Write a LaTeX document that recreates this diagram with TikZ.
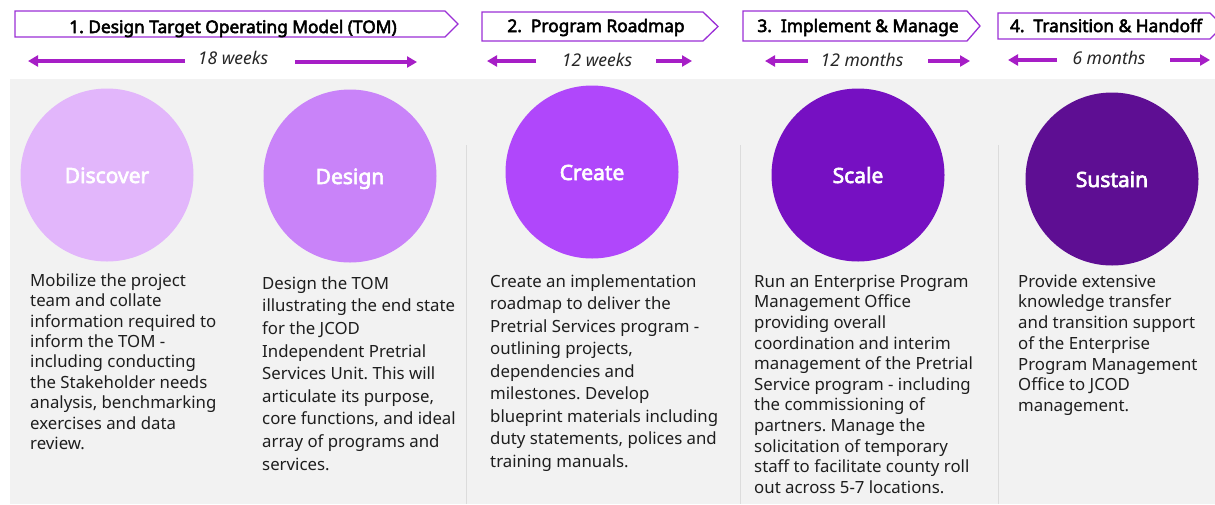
\documentclass[tikz,border=0pt]{standalone}
\usepackage{fontspec}
\setmainfont{Noto Sans}
\newfontfamily\boldsans{Noto Sans}[FakeBold=3]
\usetikzlibrary{arrows.meta}
\definecolor{bggray}{HTML}{F2F2F2}
\definecolor{hdrpurple}{HTML}{9B2FD6}
\definecolor{arrpurple}{HTML}{A61EC6}
\definecolor{cDiscover}{HTML}{E2B6FB}
\definecolor{cDesign}{HTML}{C983F9}
\definecolor{cCreate}{HTML}{B047FB}
\definecolor{cScale}{HTML}{7610C2}
\definecolor{cSustain}{HTML}{5E0E93}
\definecolor{bodytext}{HTML}{1E1E1E}
\definecolor{divider}{HTML}{DCDCDC}
\newcommand{\firstline}{\rule{0pt}{13pt}}
\frenchspacing
\begin{document}
\begin{tikzpicture}[x=1pt,y=-1pt,
  hdr/.style={draw=hdrpurple, line width=1.3pt, fill=white, line join=miter},
  hdrtext/.style={font=\fontsize{17.3}{19}\boldsans, text=black, inner sep=0pt, anchor=base},
  dur/.style={font=\fontsize{17.5}{19}\selectfont\itshape, text=black!85, inner sep=0pt, anchor=base},
  durarrow/.style={draw=arrpurple, line width=3.5pt, -{Triangle[length=10pt,width=11pt]}},
  phase/.style={circle, minimum size=173pt, inner sep=0pt, text=white, text height=16pt, text depth=0pt, font=\fontsize{21}{24}\boldsans},
  body/.style={anchor=north west, align=left, inner sep=0pt, text=bodytext},
  divline/.style={draw=divider, line width=0.8pt}
]
\useasboundingbox (0,0) rectangle (1215,504);
\clip (0,0) rectangle (1215,504);
\fill[bggray] (10,79) rectangle (1215,504);

% dividers
\draw[divline] (466,145) -- (466,504);
\draw[divline] (740,145) -- (740,504);
\draw[divline] (998,145) -- (998,504);

% header chevrons
\draw[hdr] (15,11) -- (445,11) -- (458,24) -- (445,37) -- (15,37) -- cycle;
\draw[hdr] (482,12) -- (703,12) -- (718,26.5) -- (703,41) -- (482,41) -- cycle;
\draw[hdr] (743,11) -- (967,11) -- (980,26) -- (967,41) -- (743,41) -- cycle;
\draw[hdr] (998,13) -- (1210,13) -- (1223,26) -- (1210,39) -- (998,39) -- cycle;
\node[hdrtext] (h1) at (233,33) {1. Design Target Operating Model (TOM)};
\node[hdrtext] (h2) at (596,32) {2.\ \ Program Roadmap};
\node[hdrtext] (h3) at (858,32) {3.\ \ Implement \& Manage};
\node[hdrtext] (h4) at (1106,32) {4.\ \ Transition \& Handoff};

% durations
\node[dur] (d1) at (233,64) {18 weeks};
\node[dur] (d2) at (597,66) {12 weeks};
\node[dur] (d3) at (862,66) {12 months};
\node[dur] (d4) at (1109,64) {6 months};
\coordinate (d1l) at (28,61);  \coordinate (d1ls) at (185,61);
\coordinate (d1rs) at (295,62); \coordinate (d1r) at (417,62);
\coordinate (d2l) at (487,61); \coordinate (d2ls) at (536,61);
\coordinate (d2rs) at (656,61); \coordinate (d2r) at (692,61);
\coordinate (d3l) at (765,61); \coordinate (d3ls) at (808,61);
\coordinate (d3rs) at (928,61); \coordinate (d3r) at (970,61);
\coordinate (d4l) at (1008,60); \coordinate (d4ls) at (1057,60);
\coordinate (d4rs) at (1170,60); \coordinate (d4r) at (1210,60);
\draw[durarrow] (d1ls) -- (d1l);
\draw[durarrow] (d1rs) -- (d1r);
\draw[durarrow] (d2ls) -- (d2l);
\draw[durarrow] (d2rs) -- (d2r);
\draw[durarrow] (d3ls) -- (d3l);
\draw[durarrow] (d3rs) -- (d3r);
\draw[durarrow] (d4ls) -- (d4l);
\draw[durarrow] (d4rs) -- (d4r);

% circles
\node[phase, fill=cDiscover] (discover) at (107,175) {Discover};
\node[phase, fill=cDesign] (design) at (350,176) {Design};
\node[phase, fill=cCreate] (create) at (592,172) {Create};
\node[phase, fill=cScale] (scale) at (858,175) {Scale};
\node[phase, fill=cSustain] (sustain) at (1112,179) {Sustain};

% body texts
\node[body, font=\fontsize{16.8}{20.4}\selectfont] (t1) at (30,273) {\firstline Mobilize the project\\team and collate\\information required to\\inform the TOM -\\including conducting\\the Stakeholder needs\\analysis, benchmarking\\exercises and data\\review.};
\node[body, font=\fontsize{16.8}{22.6}\selectfont] (t2) at (262,276) {\firstline Design the TOM\\illustrating the end state\\for the JCOD\\Independent Pretrial\\Services Unit. This will\\articulate its purpose,\\core functions, and ideal\\array of programs and\\services.};
\node[body, font=\fontsize{16.8}{22.5}\selectfont] (t3) at (490,274) {\firstline Create an implementation\\roadmap to deliver the\\Pretrial Services program -\\outlining projects,\\dependencies and\\milestones. Develop\\blueprint materials including\\duty statements, polices and\\training manuals.};
\node[body, font=\fontsize{16.8}{20.6}\selectfont] (t4) at (754,274) {\firstline Run an Enterprise Program\\Management Office\\providing overall\\coordination and interim\\management of the Pretrial\\Service program - including\\the commissioning of\\partners. Manage the\\solicitation of temporary\\staff to facilitate county roll\\out across 5-7 locations.};
\node[body, font=\fontsize{16.8}{20.7}\selectfont] (t5) at (1018,274) {\firstline Provide extensive\\knowledge transfer\\and transition support\\of the Enterprise\\Program Management\\Office to JCOD\\management.};
\end{tikzpicture}
\end{document}
